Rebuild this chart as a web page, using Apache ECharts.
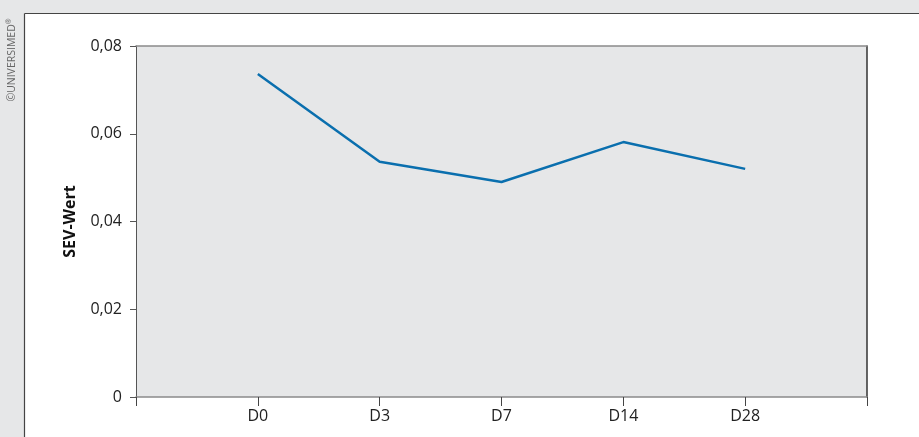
<!DOCTYPE html>
<html>
<head>
<meta charset="utf-8">
<script src="https://cdn.jsdelivr.net/npm/echarts@6/dist/echarts.min.js"></script>
<style>
html,body{margin:0;padding:0;background:#fff;}
#c{width:919px;height:437px;}
</style>
</head>
<body>
<div id="c"></div>
<script>
const categories = ['', 'D0', 'D3', 'D7', 'D14', 'D28', ''];
const sevValues = [null, 0.0736, 0.0536, 0.049, 0.0581, 0.052, null];
const yTicks = [0, 0.02, 0.04, 0.06, 0.08];
const yAxisTitle = 'SEV-Wert';
const copyrightText = '©UNIVERSIMED';

const FONT = '"Open Sans", "Noto Sans", sans-serif';
const chart = echarts.init(document.getElementById('c'), null, {renderer: 'canvas'});

function fmt(v) {
  if (v === 0) return '0';
  return v.toFixed(2).replace('.', ',');
}

chart.setOption({
  animation: false,
  backgroundColor: '#ffffff',
  textStyle: {fontFamily: FONT},
  graphic: [
    {type: 'rect', shape: {x: 0, y: 0, width: 919, height: 13}, style: {fill: '#e6e7e8'}, silent: true},
    {type: 'rect', shape: {x: 0, y: 0, width: 24, height: 437}, style: {fill: '#e6e7e8'}, silent: true},
    {type: 'line', shape: {x1: 24.5, y1: 13.5, x2: 919, y2: 13.5}, style: {stroke: '#444', lineWidth: 1.2}, silent: true},
    {type: 'line', shape: {x1: 24.5, y1: 13.5, x2: 24.5, y2: 437}, style: {stroke: '#444', lineWidth: 1.2}, silent: true},
    {
      type: 'text', x: 12, y: 60, rotation: Math.PI / 2,
      style: {
        text: '{a|' + copyrightText + '}{b|®}',
        align: 'center', verticalAlign: 'middle',
        rich: {
          a: {fontSize: 10.5, fill: '#666', fontFamily: FONT},
          b: {fontSize: 7, fill: '#666', fontFamily: FONT, verticalAlign: 'top', padding: [0, 0, 6, 0]}
        }
      },
      silent: true
    }
  ],
  grid: {
    left: 136, right: 52, top: 46, bottom: 40,
    show: true, backgroundColor: '#e6e7e8', borderWidth: 0
  },
  xAxis: [
    {
      type: 'category', data: categories, boundaryGap: false, position: 'bottom',
      axisLine: {show: true, onZero: false, lineStyle: {color: '#8a8a8a', width: 1.5}},
      axisTick: {show: true, interval: 0, length: 9, lineStyle: {color: '#444', width: 1}},
      axisLabel: {interval: 0, color: '#222', fontSize: 16, margin: 11, fontFamily: FONT},
      splitLine: {show: false}
    },
    {
      type: 'category', data: categories, boundaryGap: false, position: 'top',
      axisLine: {show: true, onZero: false, lineStyle: {color: '#8a8a8a', width: 1.5}},
      axisTick: {show: false}, axisLabel: {show: false}, splitLine: {show: false}
    }
  ],
  yAxis: [
    {
      type: 'value', min: 0, max: 0.08, interval: 0.02, position: 'left',
      name: yAxisTitle, nameLocation: 'middle', nameGap: 58, nameRotate: 90,
      nameTextStyle: {fontSize: 16, fontWeight: 'bold', color: '#111', fontFamily: FONT},
      axisLine: {show: true, onZero: false, lineStyle: {color: '#555', width: 1}},
      axisTick: {show: true, length: 6, lineStyle: {color: '#555'}},
      axisLabel: {color: '#222', fontSize: 16, margin: 14, fontFamily: FONT, formatter: fmt},
      splitLine: {show: false}
    },
    {
      type: 'value', min: 0, max: 0.08, interval: 0.02, position: 'right',
      axisLine: {show: true, onZero: false, lineStyle: {color: '#333', width: 1.5}},
      axisTick: {show: false}, axisLabel: {show: false}, splitLine: {show: false}
    }
  ],
  series: [
    {
      type: 'line', data: sevValues, xAxisIndex: 0, yAxisIndex: 0,
      showSymbol: false, symbol: 'none', connectNulls: false,
      lineStyle: {color: '#0a6fae', width: 2.5},
      itemStyle: {color: '#0a6fae'}
    }
  ]
});
</script>
</body>
</html>
